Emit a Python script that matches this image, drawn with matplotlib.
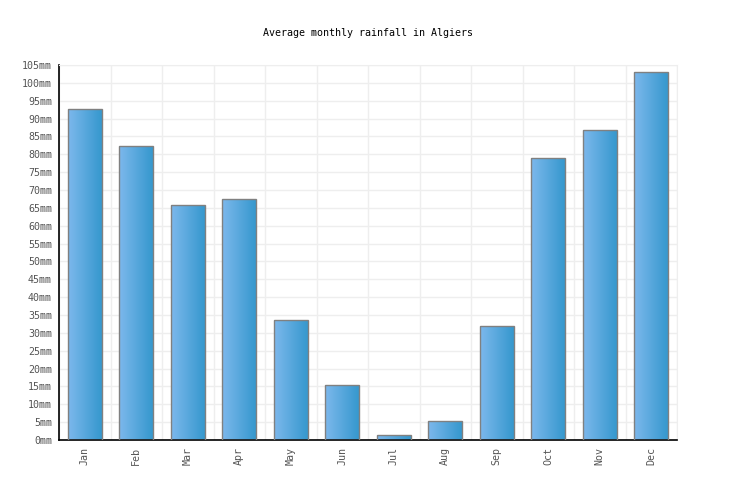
import numpy as np
import matplotlib
matplotlib.use("Agg")
import matplotlib.pyplot as plt
from matplotlib.colors import LinearSegmentedColormap

# Monthly rainfall data (mm)
months = ["Jan", "Feb", "Mar", "Apr", "May", "Jun",
          "Jul", "Aug", "Sep", "Oct", "Nov", "Dec"]
rainfall = [92.6, 82.2, 65.9, 67.4, 33.5, 15.3, 1.3, 5.2, 31.8, 78.9, 86.7, 103.0]
y_ticks = list(range(0, 106, 5))
y_labels = [f"{v}mm" for v in y_ticks]

plt.rcParams['font.family'] = ['DejaVu Sans Mono']

fig = plt.figure(figsize=(7.36, 5.0), dpi=100)
ax = fig.add_axes([59 / 736, 60 / 500, 618 / 736, 375 / 500])

x = np.arange(len(months))
bars = ax.bar(x, rainfall, width=0.66, color="none", edgecolor="#808080",
              linewidth=1.0, zorder=3)

# horizontal gradient fill for each bar
grad = LinearSegmentedColormap.from_list("g", ["#7cb8ec", "#3698ce"])
gradient = np.linspace(0, 1, 64).reshape(1, -1)
for b in bars:
    x0, y0 = b.get_x(), b.get_y()
    w, h = b.get_width(), b.get_height()
    im = ax.imshow(gradient, cmap=grad, aspect="auto",
                   extent=[x0, x0 + w, y0, y0 + h], zorder=2)
    im.set_clip_path(b)

ax.set_xlim(-0.5, len(months) - 0.5)
ax.set_ylim(0, 105)

ax.set_yticks(y_ticks)
ax.set_yticklabels(y_labels)
ax.set_xticks(x)
ax.set_xticklabels(months, rotation=90)
ax.tick_params(axis="both", length=0, labelsize=7.2, colors="#555555", pad=5)

# grid: horizontal every 5mm, vertical at category boundaries
ax.set_xticks(np.arange(-0.5, len(months)), minor=True)
ax.tick_params(axis="x", which="minor", length=0)
ax.grid(axis="y", which="major", color="#eeeeee", linewidth=1, zorder=0)
ax.grid(axis="x", which="minor", color="#eeeeee", linewidth=1, zorder=0)
ax.set_axisbelow(True)

for s in ["top", "right"]:
    ax.spines[s].set_color("#eeeeee")
for s in ["left", "bottom"]:
    ax.spines[s].set_color("black")
    ax.spines[s].set_linewidth(1.2)

fig.text(0.5, 1 - 33 / 500, "Average monthly rainfall in Algiers",
         ha="center", va="center", fontsize=7.2, color="black")

fig.savefig("out.png", dpi=100)
